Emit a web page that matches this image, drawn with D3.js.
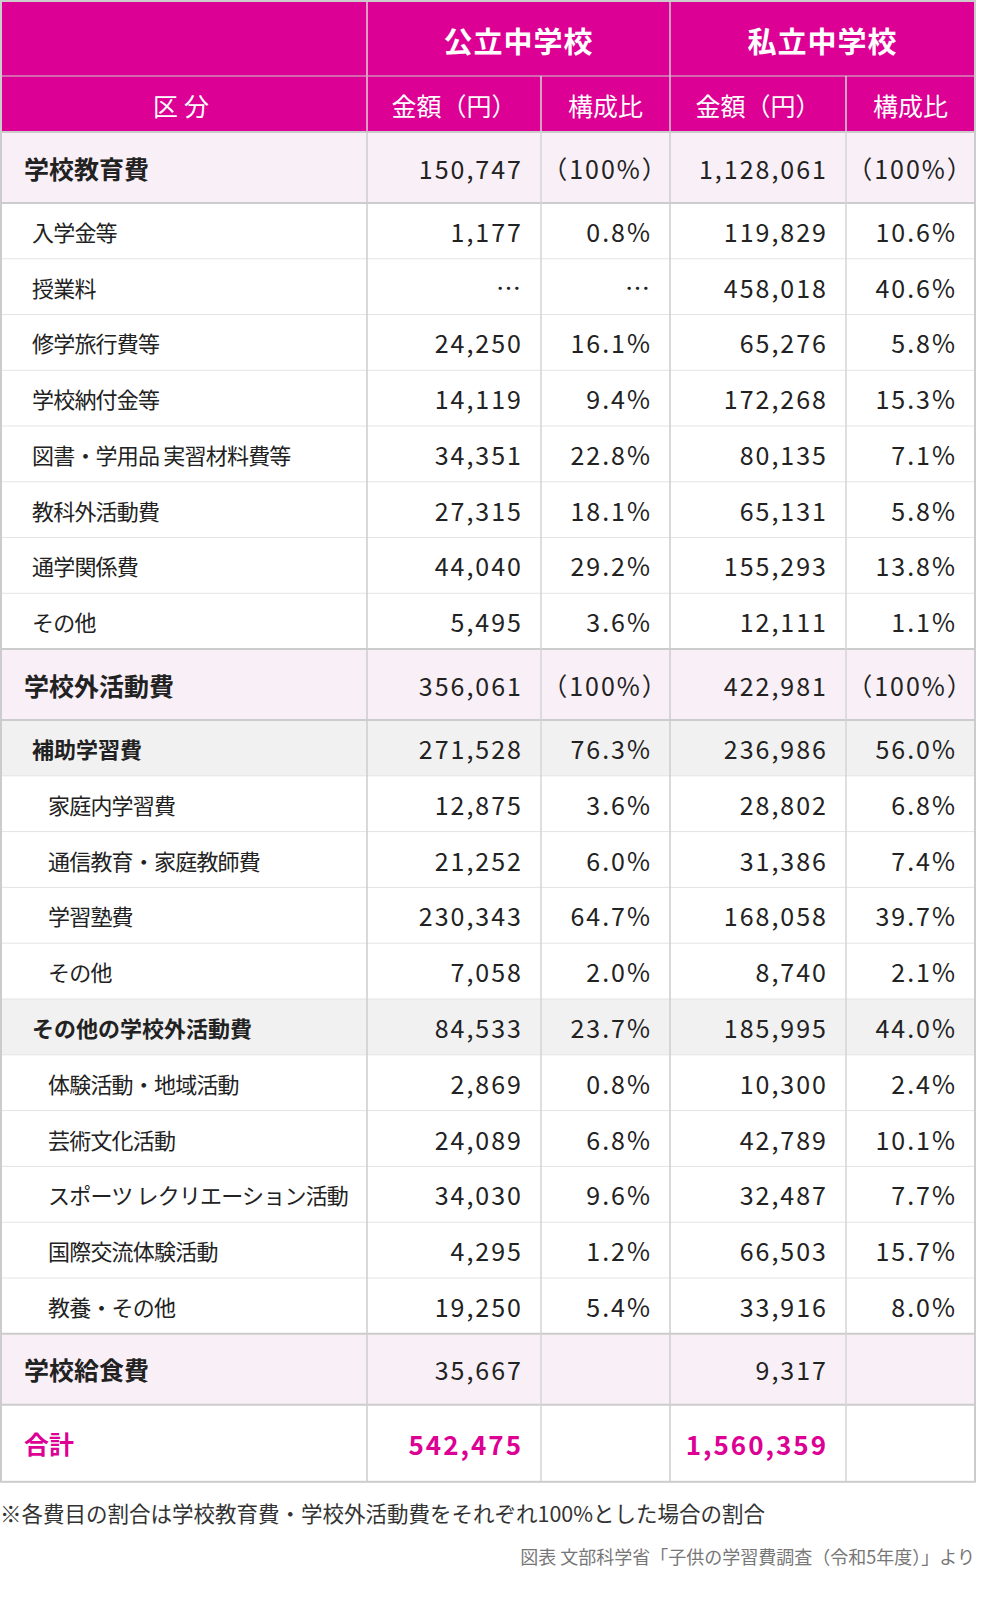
<!DOCTYPE html><html><head><meta charset="utf-8">
<script src="https://cdn.jsdelivr.net/npm/d3@7"></script>
<style>body{margin:0;background:#fff}svg{display:block}</style></head><body>
<script>
const labels=["学校教育費","入学金等","授業料","修学旅行費等","学校納付金等","図書・学用品 実習材料費等","教科外活動費","通学関係費","その他","学校外活動費","補助学習費","家庭内学習費","通信教育・家庭教師費","学習塾費","その他","その他の学校外活動費","体験活動・地域活動","芸術文化活動","スポーツ レクリエーション活動","国際交流体験活動","教養・その他","学校給食費","合計"];
const types=["sec","n1","n1","n1","n1","n1","n1","n1","n1","sec","sub","n2","n2","n2","n2","sub","n2","n2","n2","n2","n2","sec","tot"];
const pubAmt=["150,747","1,177","…","24,250","14,119","34,351","27,315","44,040","5,495","356,061","271,528","12,875","21,252","230,343","7,058","84,533","2,869","24,089","34,030","4,295","19,250","35,667","542,475"];
const pubPct=["（100%）","0.8%","…","16.1%","9.4%","22.8%","18.1%","29.2%","3.6%","（100%）","76.3%","3.6%","6.0%","64.7%","2.0%","23.7%","0.8%","6.8%","9.6%","1.2%","5.4%","",""];
const priAmt=["1,128,061","119,829","458,018","65,276","172,268","80,135","65,131","155,293","12,111","422,981","236,986","28,802","31,386","168,058","8,740","185,995","10,300","42,789","32,487","66,503","33,916","9,317","1,560,359"];
const priPct=["（100%）","10.6%","40.6%","5.8%","15.3%","7.1%","5.8%","13.8%","1.1%","（100%）","56.0%","6.8%","7.4%","39.7%","2.1%","44.0%","2.4%","10.1%","7.7%","15.7%","8.0%","",""];
const groups=["公立中学校","私立中学校"];
const colHeads=["区分","金額（円）","構成比","金額（円）","構成比"];
const footnote="※各費目の割合は学校教育費・学校外活動費をそれぞれ100%とした場合の割合";
const source="図表 文部科学省「子供の学習費調査（令和5年度）」より";

const M="#dd0094",G="#cccccc",F="'Noto Sans CJK JP','Noto Sans',sans-serif";
const W=1000,H=1606;
const svg=d3.select("body").append("svg").attr("width",W).attr("height",H).style("font-family",F);
const cx=[1,367,541,670,846,975];
const hH={sec:71,n1:55.75,n2:55.8,sub:55.8,tot:77};
let y=132;const rows=labels.map((l,i)=>{const h=hH[types[i]];const r={y,h,i};y+=h;return r;});
const tableBottom=y;
svg.append("rect").attr("x",1).attr("y",1).attr("width",974).attr("height",131).attr("fill",M);
groups.forEach((g,k)=>svg.append("text").attr("x",(cx[1+2*k]+cx[3+2*k])/2).attr("y",40).attr("text-anchor","middle").attr("dominant-baseline","central").attr("fill","#fff").attr("font-size",29).attr("font-weight",700).attr("letter-spacing",1).text(g));
colHeads.forEach((c,k)=>svg.append("text").attr("x",(cx[k]+cx[k+1])/2).attr("y",105).attr("text-anchor","middle").attr("dominant-baseline","central").attr("fill","#fff").attr("font-size",25).attr("letter-spacing",k===0?6:0).text(c));
const bg={sec:"#f9eff7",sub:"#f1f1f1",n1:"#fff",n2:"#fff",tot:"#fff"};
rows.forEach(r=>{const t=types[r.i];
 svg.append("rect").attr("x",1).attr("y",r.y).attr("width",974).attr("height",r.h).attr("fill",bg[t]);
 const ind={sec:24,sub:32,n1:32,n2:48,tot:24}[t];
 const bold=t==="sec"||t==="sub"||t==="tot";
 const col=t==="tot"?M:"#222";
 const fs=(t==="sec"||t==="tot")?25:22;
 const cy=r.y+r.h/2;
 svg.append("text").attr("x",ind).attr("y",cy).attr("dominant-baseline","central").attr("fill",col).attr("font-size",fs).attr("font-weight",bold?700:400).attr("letter-spacing",(t==="n1"||t==="n2")?-0.8:0).text(labels[r.i]);
 const vals=[pubAmt[r.i],pubPct[r.i],priAmt[r.i],priPct[r.i]];
 vals.forEach((v,k)=>{
   const paren=v.startsWith("（");
   svg.append("text").attr("x",paren?(cx[k+1]+cx[k+2])/2:cx[k+2]-18).attr("y",cy).attr("text-anchor",paren?"middle":"end").attr("dominant-baseline","central")
   .attr("fill",col).attr("font-size",t==="tot"?26:25).attr("font-weight",t==="tot"?700:400).attr("letter-spacing",2).text(v);
 });
});
rows.forEach((r,i)=>{if(i===0)return;const t=types[i],p=types[i-1];
 const strong=(t==="sec"||p==="sec"||t==="tot");
 svg.append("line").attr("x1",1).attr("x2",975).attr("y1",r.y).attr("y2",r.y).attr("stroke",strong?G:"#e4e4e4").attr("stroke-width",strong?2:1);
});
svg.append("line").attr("x1",1).attr("x2",975).attr("y1",132).attr("y2",132).attr("stroke",G).attr("stroke-width",2);
svg.append("line").attr("x1",1).attr("x2",975).attr("y1",76).attr("y2",76).attr("stroke",G).attr("stroke-width",1);
[1,2,3,4].forEach(k=>svg.append("line").attr("x1",cx[k]).attr("x2",cx[k]).attr("y1",(k%2===0)?76:0).attr("y2",tableBottom).attr("stroke",k%2===0?"#d4d4d4":G).attr("stroke-width",1.5));
svg.append("line").attr("x1",cx[1]).attr("x2",cx[1]).attr("y1",0).attr("y2",132).attr("stroke","#e89ac8").attr("stroke-width",1.5);
svg.append("rect").attr("x",1).attr("y",1).attr("width",974).attr("height",tableBottom-1).attr("fill","none").attr("stroke",G).attr("stroke-width",2);
svg.append("text").attr("x",0).attr("y",1512).attr("dominant-baseline","central").attr("fill","#333").attr("font-size",21.5).text(footnote);
svg.append("text").attr("x",975).attr("y",1556).attr("text-anchor","end").attr("dominant-baseline","central").attr("fill","#777").attr("font-size",18).text(source);
</script></body></html>
